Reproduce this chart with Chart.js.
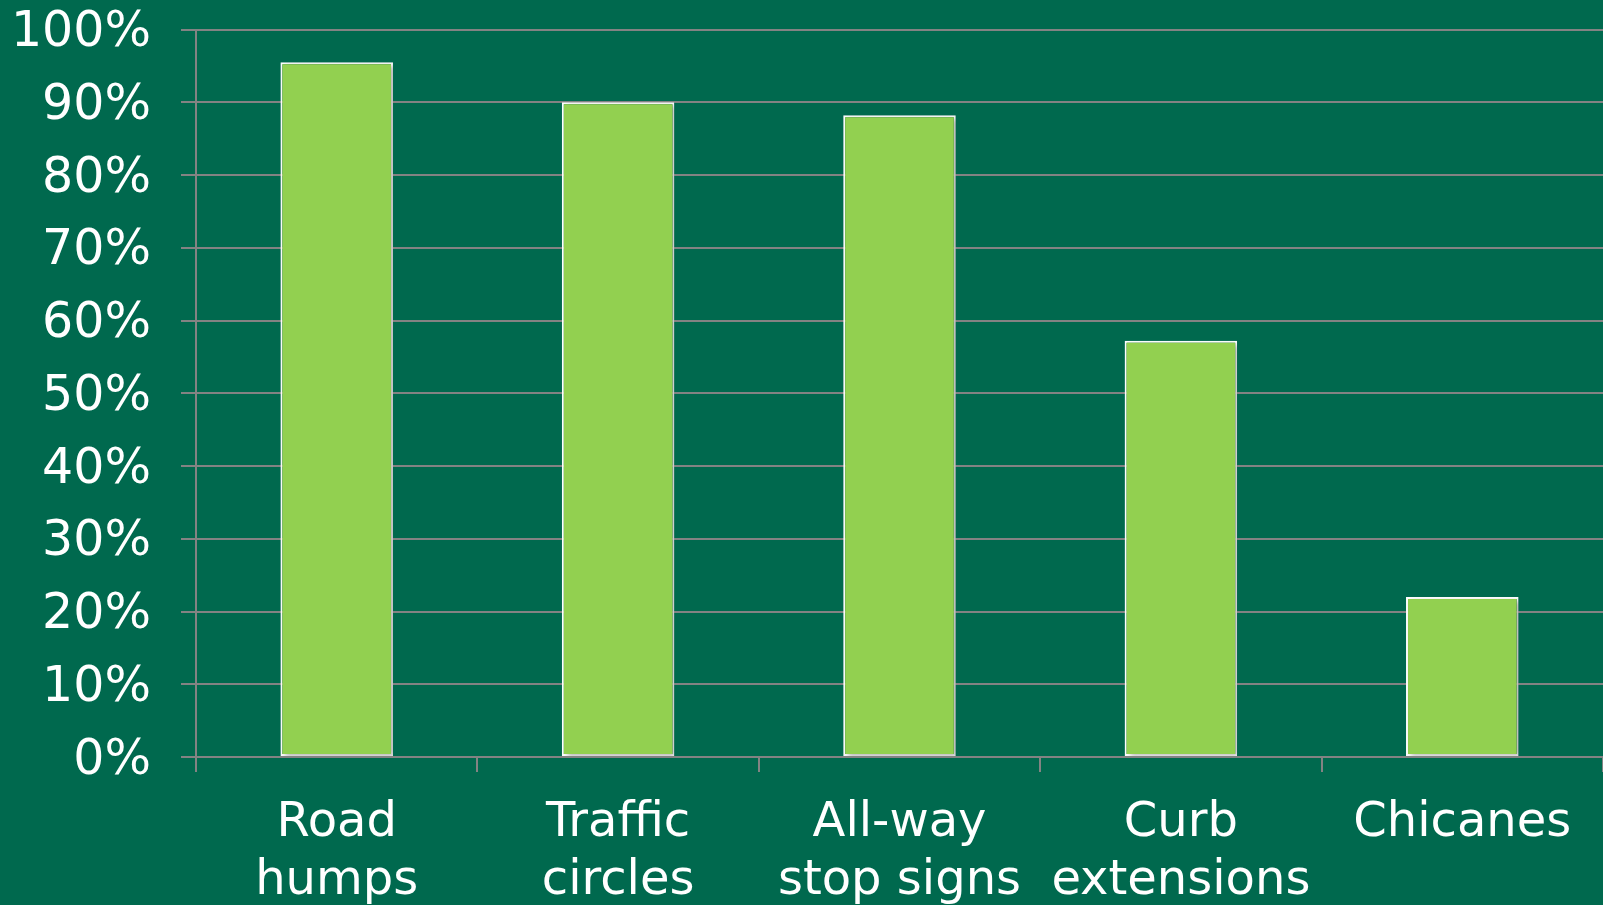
<!DOCTYPE html>
<html>
<head>
<meta charset="utf-8">
<script src="https://cdn.jsdelivr.net/npm/chart.js@4/dist/chart.umd.min.js"></script>
<style>
  html, body { margin: 0; padding: 0; background: #00694E; }
  #wrap { width: 1603px; height: 905px; }
</style>
</head>
<body>
<div id="wrap"><canvas id="chart" width="1603" height="905"></canvas></div>
<script>
const categories = [['Road', 'humps'], ['Traffic', 'circles'], ['All-way', 'stop signs'], ['Curb', 'extensions'], 'Chicanes'];
const shares = [95.5, 90, 88.2, 57.2, 22];
const yTicks = [0, 10, 20, 30, 40, 50, 60, 70, 80, 90, 100];

// soft shadow behind the bars
const barShadow = {
    id: 'barShadow',
    beforeDatasetDraw(chart) {
        const ctx = chart.ctx;
        ctx.save();
        ctx.shadowColor = 'rgba(0, 0, 0, 0.3)';
        ctx.shadowOffsetX = 3;
        ctx.shadowOffsetY = 2;
        ctx.shadowBlur = 5;
    },
    afterDatasetDraw(chart) {
        chart.ctx.restore();
    }
};

Chart.defaults.font.family = '"DejaVu Sans", sans-serif';
Chart.defaults.color = '#ffffff';

new Chart(document.getElementById('chart').getContext('2d'), {
    type: 'bar',
    data: {
        labels: categories,
        datasets: [{
            data: shares,
            backgroundColor: '#92D050',
            borderColor: '#ffffff',
            borderWidth: 2,
            borderSkipped: false,
            barPercentage: 0.4,
            categoryPercentage: 1
        }]
    },
    options: {
        responsive: false,
        animation: false,
        layout: { padding: { top: 29.5, left: 0, right: 0, bottom: 0 } },
        plugins: { legend: { display: false }, tooltip: { enabled: false } },
        scales: {
            x: {
                afterFit: s => { s.height = 148; },
                grid: { display: true, drawOnChartArea: false, offset: true, color: '#838383', lineWidth: 2, tickLength: 15 },
                border: { color: '#838383', width: 2 },
                ticks: { font: { size: 48, lineHeight: 1.22 }, padding: 22, maxRotation: 0, autoSkip: false }
            },
            y: {
                min: 0,
                max: 100,
                afterFit: s => { s.width = 196; s.paddingTop = 0; s.paddingBottom = 0; },
                afterBuildTicks: s => { s.ticks = yTicks.map(v => ({ value: v })); },
                grid: { color: '#838383', lineWidth: 2, tickLength: 15 },
                border: { color: '#838383', width: 2 },
                ticks: { font: { size: 49 }, padding: 30, labelOffset: 4, callback: v => v + '%' }
            }
        }
    },
    plugins: [barShadow]
});
</script>
</body>
</html>
